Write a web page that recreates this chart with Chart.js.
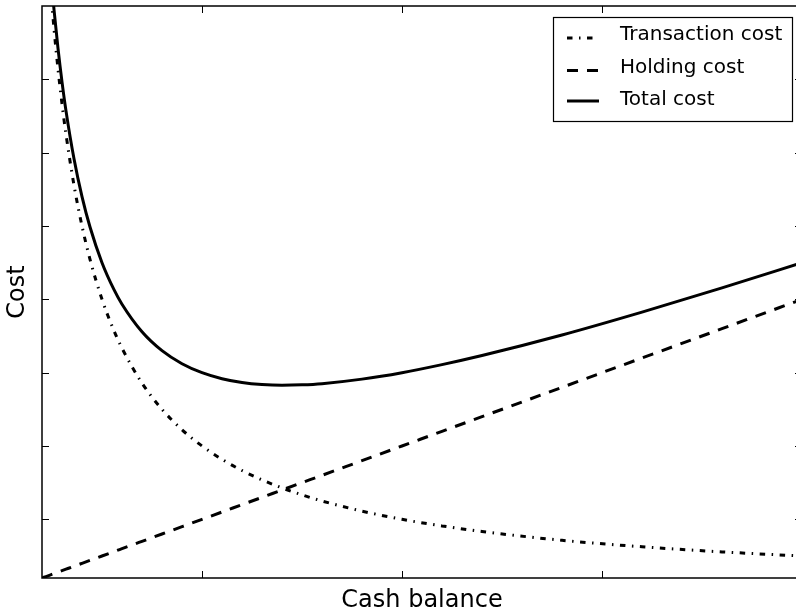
<!DOCTYPE html>
<html>
<head>
<meta charset="utf-8">
<script src="https://cdn.jsdelivr.net/npm/chart.js@4.4.0/dist/chart.umd.min.js"></script>
<style>
    html, body { margin: 0; padding: 0; background: #fff; overflow: hidden; }
    #wrap { width: 804px; height: 615px; }
</style>
</head>
<body>
<div id="wrap"><canvas id="costChart" width="804" height="615"></canvas></div>
<script>
// cash balance (x) and the three cost curves
const cashBalance     = [0.10, 0.11, 0.12, 0.13, 0.14, 0.15, 0.16, 0.18, 0.20, 0.22, 0.25, 0.28, 0.30, 0.35, 0.40, 0.45, 0.50, 0.55, 0.60, 0.65, 0.70, 0.75, 0.80, 0.90, 1.00, 1.10, 1.20, 1.40, 1.60, 1.80, 2.00];
const transactionCost = [5.000, 4.545, 4.167, 3.846, 3.571, 3.333, 3.125, 2.778, 2.500, 2.273, 2.000, 1.786, 1.667, 1.429, 1.250, 1.111, 1.000, 0.909, 0.833, 0.769, 0.714, 0.667, 0.625, 0.556, 0.500, 0.455, 0.417, 0.357, 0.313, 0.278, 0.250];
const holdingCost     = [0.10, 0.11, 0.12, 0.13, 0.14, 0.15, 0.16, 0.18, 0.20, 0.22, 0.25, 0.28, 0.30, 0.35, 0.40, 0.45, 0.50, 0.55, 0.60, 0.65, 0.70, 0.75, 0.80, 0.90, 1.00, 1.10, 1.20, 1.40, 1.60, 1.80, 2.00];
const totalCost       = [5.100, 4.655, 4.287, 3.976, 3.711, 3.483, 3.285, 2.958, 2.700, 2.493, 2.250, 2.066, 1.967, 1.779, 1.650, 1.561, 1.500, 1.459, 1.433, 1.419, 1.414, 1.417, 1.425, 1.456, 1.500, 1.555, 1.617, 1.757, 1.913, 2.078, 2.250];

const seriesLabels = ['Transaction cost', 'Holding cost', 'Total cost'];
const xTicks = [0.5, 1.0, 1.5];
const yTicks = [0.5, 1.0, 1.5, 2.0, 2.5, 3.0, 3.5];

const dashes = [[5.5, 6.5, 1.5, 6.5], [11, 9], []];

function toPoints(ys) {
    return cashBalance.map((x, i) => ({ x: x, y: ys[i] }));
}

// inward ticks + full frame, like the classic matplotlib look
const frameTicks = {
    id: 'frameTicks',
    afterDatasetsDraw(chart) {
        const { ctx, chartArea: a, scales } = chart;
        ctx.save();
        ctx.strokeStyle = '#000';
        ctx.lineWidth = 1;
        ctx.setLineDash([]);
        ctx.beginPath();
        scales.x.ticks.forEach(t => {
            const px = Math.round(scales.x.getPixelForValue(t.value)) + 0.5;
            ctx.moveTo(px, a.bottom); ctx.lineTo(px, a.bottom - 7);
            ctx.moveTo(px, a.top); ctx.lineTo(px, a.top + 7);
        });
        scales.y.ticks.forEach(t => {
            const py = Math.round(scales.y.getPixelForValue(t.value)) + 0.5;
            ctx.moveTo(a.left, py); ctx.lineTo(a.left + 7, py);
            ctx.moveTo(a.right, py); ctx.lineTo(a.right - 7, py);
        });
        ctx.stroke();
        ctx.lineWidth = 1.5;
        ctx.strokeRect(a.left, a.top, a.right - a.left, a.bottom - a.top);
        ctx.restore();
    }
};

// boxed legend in the upper right corner
const boxLegend = {
    id: 'boxLegend',
    afterDraw(chart) {
        const ctx = chart.ctx;
        const box = { x: 553, y: 17, w: 239, h: 104 };
        const rows = [35, 68, 100];
        const sampleY = [38, 70.5, 101];
        ctx.save();
        ctx.fillStyle = '#fff';
        ctx.fillRect(box.x, box.y, box.w, box.h);
        ctx.strokeStyle = '#000';
        ctx.lineWidth = 1.2;
        ctx.setLineDash([]);
        ctx.strokeRect(box.x + 0.5, box.y + 0.5, box.w, box.h);
        chart.data.datasets.forEach((ds, i) => {
            ctx.beginPath();
            ctx.lineWidth = 3;
            ctx.lineCap = 'butt';
            ctx.setLineDash(ds.borderDash);
            ctx.moveTo(567, sampleY[i]);
            ctx.lineTo(599, sampleY[i]);
            ctx.stroke();
            ctx.setLineDash([]);
            ctx.fillStyle = '#000';
            ctx.font = '20px "DejaVu Sans"';
            ctx.textBaseline = 'middle';
            ctx.textAlign = 'left';
            ctx.fillText(ds.label, 620, rows[i]);
        });
        ctx.restore();
    }
};

const series = [transactionCost, holdingCost, totalCost];

new Chart(document.getElementById('costChart'), {
    type: 'line',
    data: {
        datasets: series.map((ys, i) => ({
            label: seriesLabels[i],
            data: toPoints(ys),
            borderColor: '#000',
            borderWidth: 3,
            borderDash: dashes[i],
            borderCapStyle: 'butt',
            pointRadius: 0,
            fill: false,
            cubicInterpolationMode: 'monotone'
        }))
    },
    options: {
        responsive: false,
        animation: false,
        events: [],
        layout: { padding: { top: 6, right: 2, left: 0, bottom: 0 } },
        plugins: {
            legend: { display: false },
            tooltip: { enabled: false }
        },
        scales: {
            x: {
                type: 'linear',
                min: 0.1,
                max: 2.0,
                afterBuildTicks: s => { s.ticks = xTicks.map(v => ({ value: v })); },
                afterFit: s => { s.height = 37; },
                ticks: { display: false },
                grid: { display: false },
                border: { display: false },
                title: {
                    display: true,
                    text: 'Cash balance',
                    color: '#000',
                    font: { family: 'DejaVu Sans', size: 24 },
                    padding: { top: 2.5, bottom: 0 }
                }
            },
            y: {
                type: 'linear',
                min: 0.1,
                max: 4.0,
                afterBuildTicks: s => { s.ticks = yTicks.map(v => ({ value: v })); },
                afterFit: s => { s.width = 42; },
                ticks: { display: false },
                grid: { display: false },
                border: { display: false },
                title: {
                    display: true,
                    text: 'Cost',
                    color: '#000',
                    font: { family: 'DejaVu Sans', size: 24 },
                    padding: { top: 3.5, bottom: 0 }
                }
            }
        }
    },
    plugins: [frameTicks, boxLegend]
});
</script>
</body>
</html>
